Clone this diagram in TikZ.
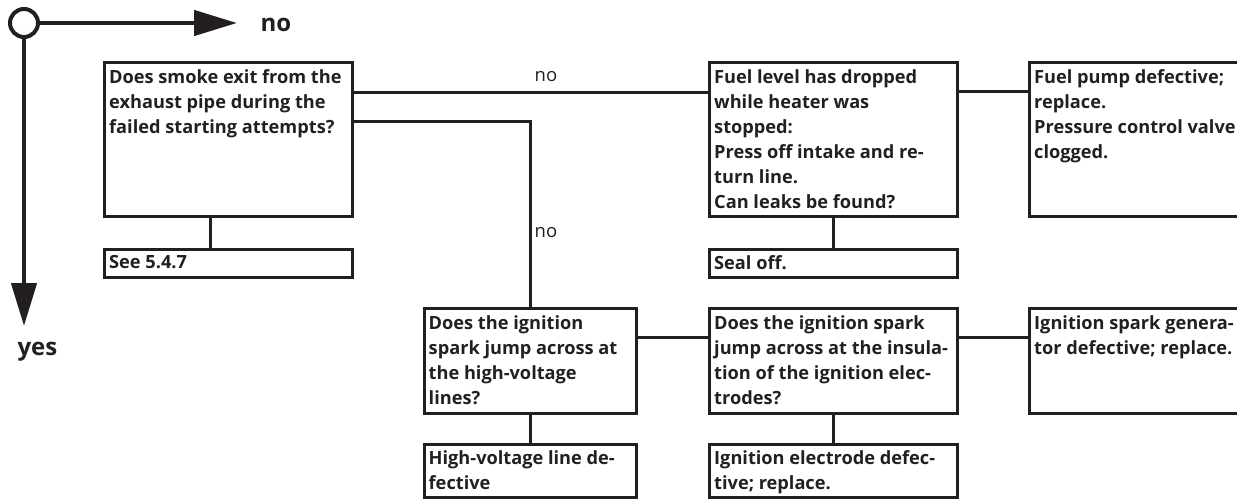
\documentclass[tikz,border=0pt]{standalone}
\usepackage{fontspec}
\setmainfont{Open Sans}
\usepackage{tikz}
\usetikzlibrary{
  arrows.meta,
}
\definecolor{ink}{HTML}{231F20}
\tikzset{
  every node/.append style={text=ink},
  stepbox/.style 2 args={
    draw=ink,
    line width=3pt,
    rectangle,
    inner sep=0pt,
    outer sep=0pt,
    anchor=north west,
    minimum width=#1,
    minimum height=#2,
  },
  boxtext/.style={
    font=\fontsize{18.2}{25}\selectfont\bfseries,
    align=left,
    anchor=north west,
    inner sep=0pt,
  },
  wire/.style={draw=ink, line width=3pt},
  answer/.style={font=\fontsize{18.5}{25}\selectfont, anchor=base},
  legend/.style={font=\fontsize{24}{28}\selectfont\bfseries, anchor=base west},
  legendline/.style={draw=ink, line width=4.5pt, -{Triangle[length=43pt,width=25pt]}},
}

\begin{document}
\begin{tikzpicture}[x=1pt,y=-1pt]
  \useasboundingbox (0,0) rectangle (1237,500);
  \clip (0,0) rectangle (1237,500);

  % legend
  \node[circle, draw=ink, line width=4pt, minimum size=28pt, inner sep=0pt] (start) at (24,23) {};
  \coordinate (noend) at (237,23);
  \coordinate (yesend) at (24,326);
  \draw[legendline] (start.east) -- (noend);
  \draw[legendline] (start.south) -- (yesend);
  \node[legend] (nolbl) at (257,32) {no};
  \node[legend] (yeslbl) at (14,355) {yes};

  % first row
  \node[stepbox={247.5pt}{153.5pt}] (smoke) at (104.5,62.5) {};
  \node[boxtext] (smoketxt) at ([xshift=4.5pt,yshift=-6.5pt]smoke.north west)
    {Does smoke exit from the\\exhaust pipe during the\\failed starting attempts?};
  \node[stepbox={247.5pt}{28pt}] (see) at (104.5,249) {};
  \node[boxtext] (seetxt) at ([xshift=4.5pt,yshift=-6pt]see.north west) {See 5.4.7};

  \node[stepbox={247.5pt}{153.5pt}] (fuel) at (709.5,62.5) {};
  \node[boxtext] (fueltxt) at ([xshift=4.5pt,yshift=-6.5pt]fuel.north west)
    {Fuel level has dropped\\while heater was\\stopped:\\Press off intake and re-\\turn line.\\Can leaks be found?};
  \node[stepbox={247.5pt}{28pt}] (seal) at (709.5,249) {};
  \node[boxtext] (sealtxt) at ([xshift=4.5pt,yshift=-6pt]seal.north west) {Seal off.};

  \node[stepbox={300pt}{153.5pt}] (pump) at (1029.5,62.5) {};
  \node[boxtext] (pumptxt) at ([xshift=4.5pt,yshift=-6.5pt]pump.north west)
    {Fuel pump defective;\\replace.\\Pressure control valve\\clogged.};

  % second row
  \node[stepbox={212pt}{104.5pt}] (spark) at (424,308.5) {};
  \node[boxtext] (sparktxt) at ([xshift=4.5pt,yshift=-6.5pt]spark.north west)
    {Does the ignition\\spark jump across at\\the high-voltage\\lines?};
  \node[stepbox={212pt}{53pt}] (hvline) at (424,444) {};
  \node[boxtext] (hvlinetxt) at ([xshift=4.5pt,yshift=-6.5pt]hvline.north west)
    {High-voltage line de-\\fective};

  \node[stepbox={247.5pt}{104.5pt}] (insul) at (709.5,308.5) {};
  \node[boxtext] (insultxt) at ([xshift=4.5pt,yshift=-6.5pt]insul.north west)
    {Does the ignition spark\\jump across at the insula-\\tion of the ignition elec-\\trodes?};
  \node[stepbox={247.5pt}{53pt}] (electrode) at (709.5,444) {};
  \node[boxtext] (electrodetxt) at ([xshift=4.5pt,yshift=-6.5pt]electrode.north west)
    {Ignition electrode defec-\\tive; replace.};

  \node[stepbox={300pt}{104.5pt}] (gen) at (1029.5,308.5) {};
  \node[boxtext] (gentxt) at ([xshift=4.5pt,yshift=-6.5pt]gen.north west)
    {Ignition spark genera-\\tor defective; replace.};

  % connectors
  \draw[wire] ([yshift=-30.5pt]smoke.north east) -- ([yshift=-30.5pt]fuel.north west);
  \draw[wire] ([yshift=-59.5pt]smoke.north east) -| (spark.north);
  \draw[wire] ([xshift=105.5pt]smoke.south west) -- ([xshift=105.5pt]see.north west);
  \draw[wire] (fuel.south) -- (seal.north);
  \draw[wire] ([yshift=-29.5pt]fuel.north east) -- ([yshift=-29.5pt]pump.north west);
  \draw[wire] (spark.south) -- (hvline.north);
  \draw[wire] ([yshift=-28.5pt]spark.north east) -- ([yshift=-28.5pt]insul.north west);
  \draw[wire] (insul.south) -- (electrode.north);
  \draw[wire] ([yshift=-28.5pt]insul.north east) -- ([yshift=-28.5pt]gen.north west);

  \node[answer] (no1) at (546,82) {no};
  \node[answer] (no2) at (546,237) {no};
\end{tikzpicture}
\end{document}
